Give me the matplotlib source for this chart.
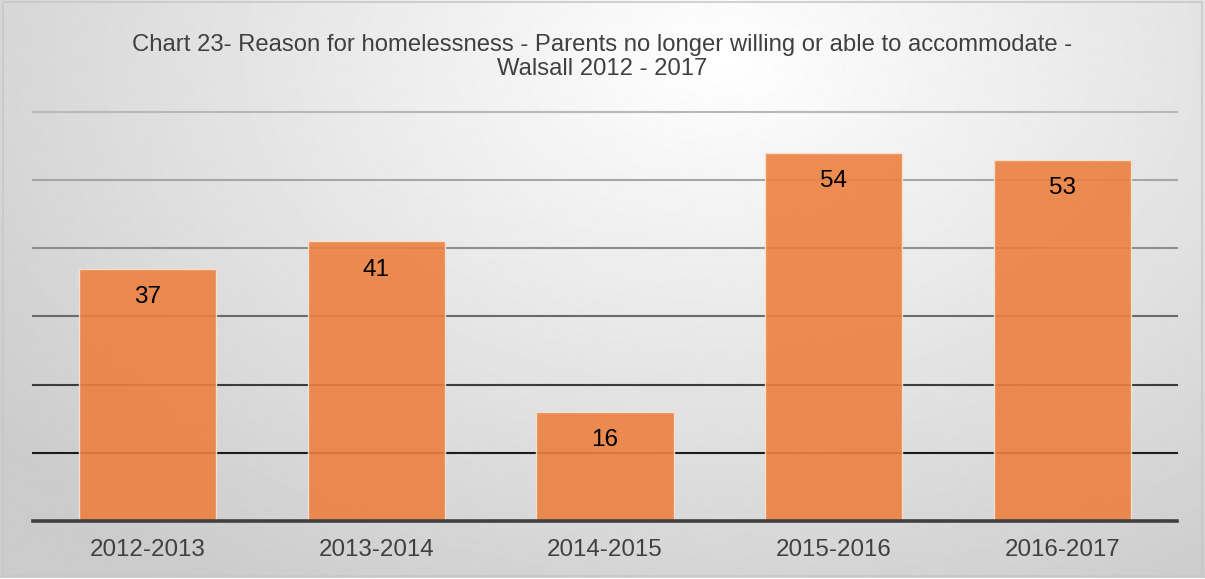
import numpy as np
import matplotlib.pyplot as plt

years = ['2012-2013', '2013-2014', '2014-2015', '2015-2016', '2016-2017']
counts = [37, 41, 16, 54, 53]
grid_levels = [10, 20, 30, 40, 50, 60]
grid_colors = ['#1c1c1c', '#3c3c3c', '#6a6a6a', '#8e8e8e', '#a6a6a6', '#b8b8b8']

plt.rcParams['font.family'] = ['Liberation Sans', 'DejaVu Sans']

fig = plt.figure(figsize=(12.05, 5.79), dpi=100)

# radial grey background behind everything
bg = fig.add_axes([0, 0, 1, 1], zorder=-10)
yy, xx = np.mgrid[0:579, 0:1205]
r = np.sqrt(((xx - 720) / 900.0) ** 2 + ((yy - 60) / 620.0) ** 2)
shade = 1.0 - 0.2 * np.clip(r, 0, 1)
bg.imshow(shade, cmap='gray', vmin=0, vmax=1, aspect='auto', interpolation='bilinear')
bg.add_patch(plt.Rectangle((3, 2), 1199, 574, fill=False, edgecolor='#c8c8c8', lw=1.2))
bg.set_xlim(0, 1205)
bg.set_ylim(579, 0)
bg.axis('off')

ax = fig.add_axes([0.0274, 0.1002, 0.9494, 0.7064])
ax.patch.set_alpha(0)
x = np.arange(len(years))
for lvl, col in zip(grid_levels, grid_colors):
    ax.axhline(lvl, color=col, lw=1.5, zorder=1, clip_on=False)

bars = ax.bar(x, counts, width=0.6, color='#ec8040', alpha=0.9,
              edgecolor='#fbe3d2', linewidth=1.0, zorder=2)
for xi, v in zip(x, counts):
    ax.annotate(str(v), (xi, v), xytext=(0, -20.5), textcoords='offset points',
                ha='center', va='center', fontsize=17.5, color='black', zorder=3)

ax.axhline(0, color='#404040', lw=2.6, zorder=4, clip_on=False)
ax.set_xlim(-0.5, 4.5)
ax.set_ylim(0, 60)
ax.set_yticks([])
ax.set_xticks(x)
ax.set_xticklabels(years, fontsize=17.4, color='#404040')
ax.tick_params(axis='x', length=0, pad=13)
for s in ax.spines.values():
    s.set_visible(False)

fig.text(0.5, 0.902, 'Chart 23- Reason for homelessness - Parents no longer willing or able to accommodate -\nWalsall 2012 - 2017',
         ha='center', va='center', fontsize=17.2, color='#404040', linespacing=1.12)

fig.savefig('out.png', dpi=100)
